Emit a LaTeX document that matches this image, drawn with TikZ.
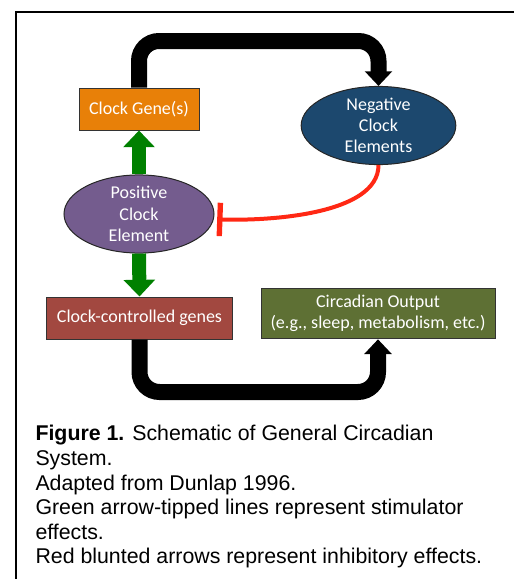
\documentclass[tikz,border=0pt]{standalone}
\usepackage{fontspec}
\setmainfont{Liberation Sans}
\newfontfamily\boxfont{Carlito}
\usetikzlibrary{shapes.geometric,arrows.meta}

\definecolor{geneorange}{RGB}{232,128,8}
\definecolor{negblue}{RGB}{28,72,110}
\definecolor{pospurple}{RGB}{116,92,142}
\definecolor{ccgred}{RGB}{162,72,64}
\definecolor{outgreen}{RGB}{94,112,52}
\definecolor{stimgreen}{RGB}{0,128,0}
\definecolor{inhibred}{RGB}{255,40,20}

\tikzset{every picture/.style={line width=0.75pt}}
\tikzset{
  genebox/.style={draw=black!80, line width=0.75pt, text=white, inner sep=0pt, font=\boxfont\fontsize{13.5}{16}\selectfont},
  clockoval/.style={ellipse, draw=black!85, line width=0.75pt, text=white, inner sep=0pt, align=center, font=\boxfont\fontsize{13.5}{16}\selectfont},
  loopflow/.style={draw=black, line width=12pt, rounded corners=15pt, -{Triangle[width=20pt,length=11pt]}},
  stimflow/.style={draw=stimgreen, line width=10.5pt, -{Triangle[width=23pt,length=12.5pt]}},
  inhibflow/.style={draw=inhibred, line width=3pt, -{Bar[width=25pt,line width=4pt]}},
}

\begin{document}
\begin{tikzpicture}[x=0.75pt,y=0.75pt,yscale=-1,xscale=1]
     \useasboundingbox (0,0) rectangle (514,579);
     %Frame
     \draw [line width=1pt]  (16,579) -- (16,12) -- (514,12) ;
     % Clock Gene(s)
     \node [genebox, fill=geneorange, minimum width=90pt, minimum height=31.5pt] (gene) at (139,109) {Clock Gene(s)};
     % Negative Clock Elements
     \node [clockoval, fill=negblue, minimum width=116pt, minimum height=56pt] (neg) at (378.5,125.5) {Negative\\Clock\\Elements};
     % Positive Clock Element
     \node [clockoval, fill=pospurple, minimum width=112.5pt, minimum height=51pt] (pos) at (139,214) {Positive\\Clock\\Element};
     % Clock-controlled genes
     \node [genebox, fill=ccgred, minimum width=140pt, minimum height=31.5pt] (ccg) at (139.5,318) {Clock-controlled genes};
     % Circadian Output
     \node [genebox, fill=outgreen, minimum width=175.5pt, minimum height=38pt, align=center] (output) at (378,313.5) {Circadian Output\\(e.g., sleep, metabolism, etc.)};
     %Loop arrows
     \draw [loopflow]  (gene.north) -- (139,41) -| (neg.north) ;
     \draw [loopflow]  (ccg.south) -- (139.5,392) -| (output.south) ;
     %Stimulator arrows
     \draw [stimflow]  (pos.north) -- (gene.south) ;
     \draw [stimflow]  (pos.south) -- (ccg.north) ;
     %Inhibitor
     \draw [inhibflow]  (neg.south) to [out=90,in=2,looseness=0.75] ([xshift=2pt,yshift=4pt]pos.east) ;
     % Caption
     \node [anchor=north west, inner sep=0pt, align=left, font=\fontsize{16}{18.4}\selectfont] (caption) at (35,425) {\textbf{Figure 1.} Schematic of General Circadian\\System.\\Adapted from Dunlap 1996.\\Green arrow-tipped lines represent stimulator\\effects.\\Red blunted arrows represent inhibitory effects.};
\end{tikzpicture}
\end{document}
